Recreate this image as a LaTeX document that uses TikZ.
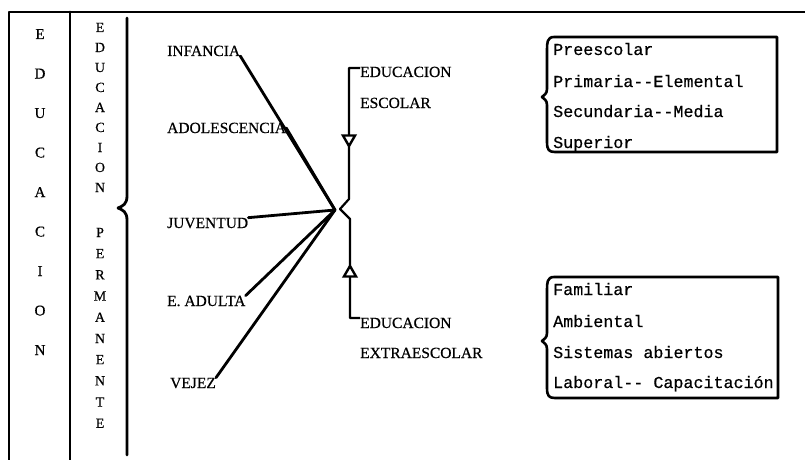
\documentclass[tikz,border=0pt]{standalone}
\usepackage{fontspec}
\setmainfont{Liberation Serif}[BoldFont={Liberation Serif}, BoldFeatures={FakeBold=0.5}]
\newfontfamily\typew{Liberation Mono}[BoldFont={Liberation Mono}, BoldFeatures={FakeBold=0.5}]
\usetikzlibrary{shapes.geometric}
\begin{document}
\begin{tikzpicture}[x=1pt,y=-1pt,
  frame/.style={line width=2.8pt, line cap=round, line join=round},
  ageline/.style={line width=2.8pt, line cap=round},
  spine/.style={line width=2.2pt, line join=round},
  boxline/.style={line width=2.6pt, line join=round},
  lab/.style={font=\bfseries\fontsize{15.5}{16}\selectfont, inner sep=0pt, anchor=base west},
  letter/.style={font=\bfseries\fontsize{14}{14}\selectfont, inner sep=0pt, anchor=base},
  bigletter/.style={font=\bfseries\fontsize{15}{15}\selectfont, inner sep=0pt, anchor=base},
  item/.style={font=\typew\bfseries\fontsize{16.7}{17}\selectfont, inner sep=0pt, anchor=base west},
  tri/.style={regular polygon, regular polygon sides=3, draw, fill=white,
    line width=2.4pt, inner sep=0pt, minimum size=14pt}]
\useasboundingbox (0,0) rectangle (805,460);

% outer frame and column rules
\draw[frame] (9,460) -- (9,12) -- (805,12);
\draw[frame] (70,12) -- (70,460);
\draw[frame] (127,18) -- (127,196) .. controls (127,204) and (123,206) .. (118,208)
  .. controls (123,210) and (127,212) .. (127,220) -- (127,455);

% first column: EDUCACION
\foreach \ch [count=\i from 0] in {E,D,U,C,A,C,I,O,N}
  \node[bigletter] (ca-\i) at (40,{39+39.5*\i}) {\ch};

% second column: EDUCACION PERMANENTE
\foreach \ch [count=\i from 0] in {E,D,U,C,A,C,I,O,N}
  \node[letter] (cb-\i) at (100,{32+20*\i}) {\ch};
\foreach \ch [count=\i from 0] in {P,E,R,M,A,N,E,N,T,E}
  \node[letter] (cc-\i) at (100,{237+21.2*\i}) {\ch};

% stages of life
\node[lab] (infancia) at (167,56) {INFANCIA};
\node[lab] (adol) at (167,133) {ADOLESCENCIA};
\node[lab] (juv) at (167,228) {JUVENTUD};
\node[lab] (adulta) at (167,306) {E. ADULTA};
\node[lab] (vejez) at (170,388) {VEJEZ};

\coordinate (hub) at (335,210);
\draw[ageline] (infancia.base east) -- (hub);
\draw[ageline] (adol.east) -- (hub);
\draw[ageline] (juv.north east) -- (hub);
\draw[ageline] (adulta.north east) -- (hub);
\draw[ageline] (vejez.north east) -- (hub);

% school / out-of-school branches
\node[lab] (esc1) at (360,77) {EDUCACION};
\node[lab] (esc2) at (360,108) {ESCOLAR};
\node[lab] (ext1) at (360,328) {EDUCACION};
\node[lab] (ext2) at (360,358) {EXTRAESCOLAR};

\coordinate (ctop) at (349,68);
\coordinate (cbot) at (350,318);
\coordinate (tip) at (340,209);
\draw[spine] (esc1.west |- ctop) -- (ctop) -- (349,199) -- (tip) -- (350,219)
  -- (cbot) -- (ext1.west |- cbot);
\node[tri, shape border rotate=180] (tdown) at (349,139) {};
\node[tri] (tup) at (350,273) {};

% school levels
\draw[boxline] (777,37) -- (554,37) .. controls (547,37) and (547,43) .. (547,50)
  -- (547,89) .. controls (547,94) and (544,95) .. (542,97)
  .. controls (544,99) and (547,100) .. (547,105) -- (547,142)
  .. controls (547,150) and (549,152) .. (555,152) -- (777,152) -- cycle;
\node[item] (s1) at (553,55) {Preescolar};
\node[item] (s2) at (553,87) {Primaria--Elemental};
\node[item] (s3) at (553,117) {Secundaria--Media};
\node[item] (s4) at (553,148) {Superior};

% out-of-school forms
\draw[boxline] (778,277) -- (554,277) .. controls (547,277) and (547,283) .. (547,290)
  -- (547,333) .. controls (547,338) and (544,339) .. (542,341)
  .. controls (544,343) and (547,344) .. (547,349) -- (547,388)
  .. controls (547,396) and (549,398) .. (555,398) -- (778,398) -- cycle;
\node[item] (e1) at (553,295) {Familiar};
\node[item] (e2) at (553,327) {Ambiental};
\node[item] (e3) at (553,358) {Sistemas abiertos};
\node[item] (e4) at (553,388) {Laboral-- Capacitación};
\end{tikzpicture}
\end{document}
